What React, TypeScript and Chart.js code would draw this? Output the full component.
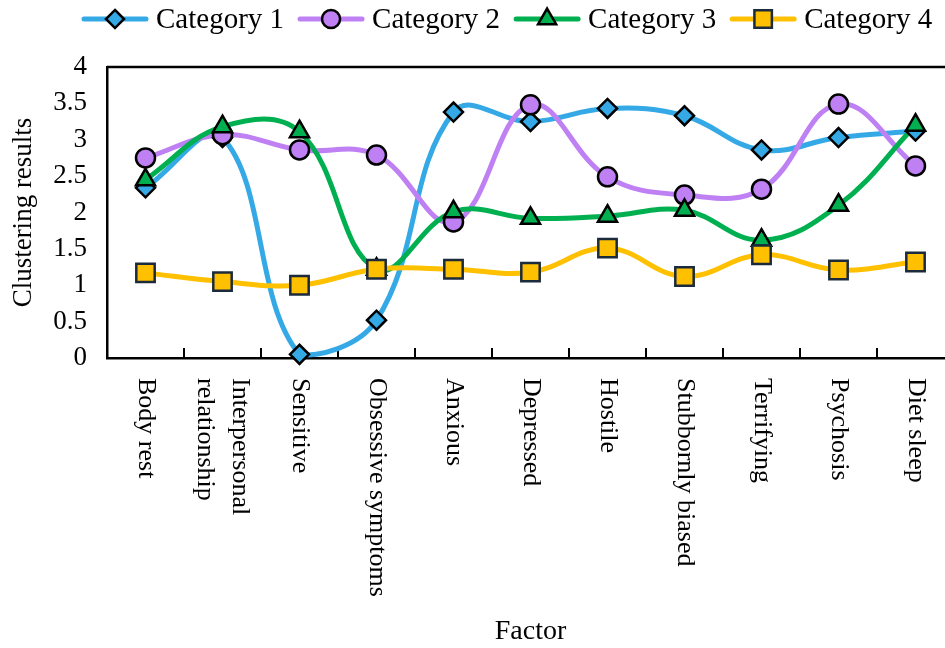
import { useEffect, useRef } from 'react';
import { Chart, registerables } from 'chart.js';

Chart.register(...registerables);

const FONT = "'Times New Roman', 'Liberation Serif', serif";

const categories: (string | string[])[] = [
  'Body rest',
  ['Interpersonal', 'relationship'],
  'Sensitive',
  'Obsessive symptoms',
  'Anxious',
  'Depressed',
  'Hostile',
  'Stubbornly biased',
  'Terrifying',
  'Psychosis',
  'Diet sleep',
];

const seriesNames = ['Category 1', 'Category 2', 'Category 3', 'Category 4'];

const category1 = [2.34, 3.03, 0.05, 0.52, 3.38, 3.25, 3.43, 3.33, 2.86, 3.03, 3.12];
const category2 = [2.75, 3.07, 2.86, 2.79, 1.87, 3.48, 2.49, 2.24, 2.32, 3.49, 2.64];
const category3 = [2.45, 3.18, 3.11, 1.22, 2.01, 1.92, 1.95, 2.03, 1.62, 2.1, 3.2];
const category4 = [1.17, 1.05, 1.0, 1.22, 1.22, 1.18, 1.51, 1.12, 1.42, 1.21, 1.32];

const yTicks = [0, 0.5, 1, 1.5, 2, 2.5, 3, 3.5, 4];

const seriesValues = [category1, category2, category3, category4];
const colors = ['#35A9E6', '#BF80F4', '#00B050', '#FFC000'];
const borders = ['#000000', '#000000', '#000000', '#1B2B3C'];
const styles = ['rectRot', 'circle', 'triangle', 'rect'];
const radii = [9.5, 9.5, 11, 13];

function drawMarker(ctx: CanvasRenderingContext2D, style: string, x: number, y: number, r: number) {
  ctx.beginPath();
  if (style === 'rectRot') {
    ctx.moveTo(x, y - r);
    ctx.lineTo(x + r, y);
    ctx.lineTo(x, y + r);
    ctx.lineTo(x - r, y);
    ctx.closePath();
  } else if (style === 'circle') {
    ctx.arc(x, y, r, 0, Math.PI * 2);
  } else if (style === 'triangle') {
    ctx.moveTo(x, y - r);
    ctx.lineTo(x + 0.866 * r, y + 0.5 * r);
    ctx.lineTo(x - 0.866 * r, y + 0.5 * r);
    ctx.closePath();
  } else {
    const s = r * Math.SQRT1_2;
    ctx.rect(x - s, y - s, 2 * s, 2 * s);
  }
  ctx.fill();
  ctx.stroke();
}

const customPlugin = {
  id: 'customDecor',
  beforeDatasetsDraw(chart: any) {
    const { ctx, chartArea } = chart;
    ctx.save();
    ctx.strokeStyle = '#000';
    ctx.lineWidth = 2.5;
    ctx.beginPath();
    ctx.moveTo(chartArea.left, chartArea.top);
    ctx.lineTo(chartArea.right, chartArea.top);
    ctx.lineTo(chartArea.right, chartArea.bottom);
    ctx.stroke();
    const xs = chart.scales.x;
    ctx.lineWidth = 2;
    for (let i = 1; i < categories.length; i++) {
      const x = (xs.getPixelForValue(i - 1) + xs.getPixelForValue(i)) / 2;
      ctx.beginPath();
      ctx.moveTo(x, chartArea.bottom);
      ctx.lineTo(x, chartArea.bottom - 10);
      ctx.stroke();
    }
    ctx.restore();
  },
  afterDraw(chart: any) {
    const { ctx, chartArea } = chart;
    const xs = chart.scales.x;
    ctx.save();
    ctx.fillStyle = '#000';
    ctx.font = `26px ${FONT}`;
    ctx.textAlign = 'left';
    ctx.textBaseline = 'middle';
    categories.forEach((lab, i) => {
      const lines = Array.isArray(lab) ? lab : [lab];
      const x = xs.getPixelForValue(i);
      ctx.save();
      ctx.translate(x, chartArea.bottom + 20);
      ctx.rotate(Math.PI / 2);
      lines.forEach((t, j) => {
        const off = (j - (lines.length - 1) / 2) * 35;
        ctx.fillText(t, 0, off);
      });
      ctx.restore();
    });
    ctx.font = `29px ${FONT}`;
    ctx.textBaseline = 'middle';
    let lx = 82;
    const ly = 19;
    seriesNames.forEach((name, i) => {
      ctx.strokeStyle = colors[i];
      ctx.lineWidth = 5;
      ctx.lineCap = 'round';
      ctx.beginPath();
      ctx.moveTo(lx + 2, ly);
      ctx.lineTo(lx + 64, ly);
      ctx.stroke();
      ctx.lineCap = 'butt';
      ctx.fillStyle = colors[i];
      ctx.strokeStyle = borders[i];
      ctx.lineWidth = 2.5;
      drawMarker(ctx, styles[i], lx + 33, ly, radii[i] * 0.95);
      ctx.fillStyle = '#000';
      ctx.fillText(name, lx + 74, ly + 1);
      lx += 74 + ctx.measureText(name).width + 14;
    });
    ctx.restore();
  },
};

export default function App() {
  const ref = useRef<HTMLCanvasElement>(null);
  useEffect(() => {
    document.body.style.margin = '0';
    document.body.style.overflow = 'hidden';
    document.documentElement.style.overflow = 'hidden';
    const labels = categories.map((c) => (Array.isArray(c) ? c.join(' ') : c));
    const lineSets = seriesValues.map((vals, i) => ({
      label: seriesNames[i],
      data: vals,
      borderColor: colors[i],
      backgroundColor: colors[i],
      borderWidth: 5,
      tension: 0.4,
      pointRadius: 0,
      fill: false,
      clip: false as any,
      order: 8 - i,
    }));
    const markerSets = seriesValues.map((vals, i) => ({
      label: seriesNames[i] + ' markers',
      data: vals,
      showLine: false,
      pointStyle: styles[i] as any,
      pointRadius: radii[i],
      pointBackgroundColor: colors[i],
      pointBorderColor: borders[i],
      pointBorderWidth: 2.5,
      clip: false as any,
      order: 4 - i,
    }));
    const chart = new Chart(ref.current!, {
      type: 'line',
      data: { labels, datasets: [...lineSets, ...markerSets] as any },
      plugins: [customPlugin],
      options: {
        responsive: false,
        animation: false,
        events: [],
        layout: { autoPadding: false, padding: { top: 67, left: 0, right: 0, bottom: 0 } },
        plugins: { legend: { display: false }, tooltip: { enabled: false } },
        scales: {
          x: {
            offset: true,
            grid: { display: false, drawTicks: false },
            border: { display: true, color: '#000', width: 2.5 },
            ticks: { display: false },
            title: {
              display: true,
              text: 'Factor',
              color: '#000',
              font: { family: FONT, size: 28 },
              padding: 0,
            },
            afterFit(scale: any) {
              scale.height = 290;
            },
          },
          y: {
            min: yTicks[0],
            max: yTicks[yTicks.length - 1],
            grid: { display: false, drawTicks: false },
            border: { display: true, color: '#000', width: 2.5 },
            afterBuildTicks(scale: any) {
              scale.ticks = yTicks.map((v) => ({ value: v }));
            },
            ticks: {
              color: '#000',
              font: { family: FONT, size: 27 },
              padding: 20,
              callback: (v: any) => String(Number(v)),
            },
            title: {
              display: true,
              text: 'Clustering results',
              color: '#000',
              font: { family: FONT, size: 27 },
              padding: { top: 8, bottom: 0 },
            },
            afterFit(scale: any) {
              scale.width = 107;
            },
          },
        },
      },
    });
    return () => chart.destroy();
  }, []);
  return (
    <div style={{ width: 954, height: 648 }}>
      <canvas ref={ref} width={954} height={648} style={{ display: 'block' }} />
    </div>
  );
}
